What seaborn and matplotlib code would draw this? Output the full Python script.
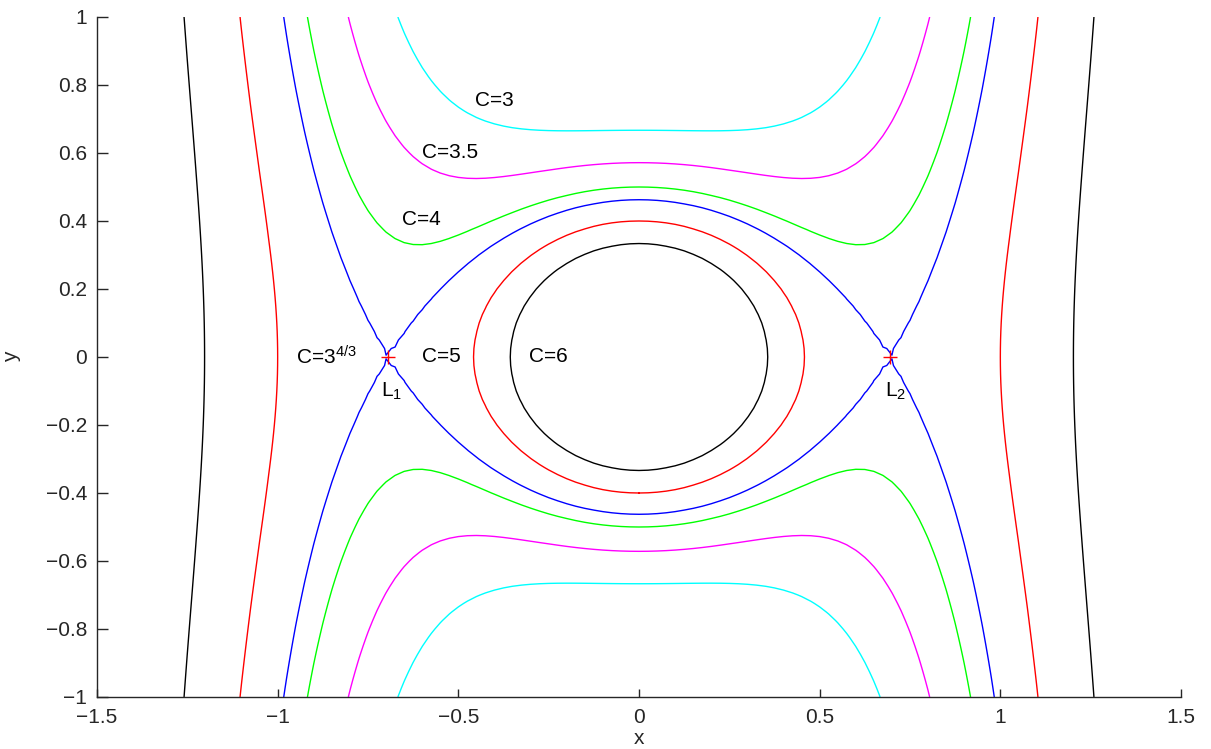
import numpy as np
import matplotlib
matplotlib.use("Agg")
import matplotlib.pyplot as plt
import seaborn as sns

# Contour levels (Jacobi constant values) and their colours
levels = [3.0, 3.5, 4.0, 3 ** (4 / 3), 5.0, 6.0]
level_colors = ["cyan", "magenta", "lime", "blue", "red", "black"]

# Labels and their data positions
label_texts = ["C=3", "C=3.5", "C=4", r"C=3$^{4/3}$", "C=5", "C=6", r"L$_1$", r"L$_2$"]
label_x = [-0.455, -0.60, -0.655, -0.95, -0.60, -0.305, -0.715, 0.68]
label_y = [0.755, 0.60, 0.405, 0.0, 0.0, 0.0, -0.10, -0.10]

# Lagrange points
lx = [-3 ** (-1 / 3), 3 ** (-1 / 3)]
ly = [0.0, 0.0]

xticks = [-1.5, -1, -0.5, 0, 0.5, 1, 1.5]
yticks = [-1, -0.8, -0.6, -0.4, -0.2, 0, 0.2, 0.4, 0.6, 0.8, 1]

sns.set_style("ticks")
plt.rcParams["font.family"] = ["Liberation Sans", "DejaVu Sans"]
plt.rcParams["xtick.direction"] = "in"
plt.rcParams["ytick.direction"] = "in"
plt.rcParams["mathtext.fontset"] = "custom"
plt.rcParams["mathtext.rm"] = "Liberation Sans"
plt.rcParams["mathtext.it"] = "Liberation Sans"

fig = plt.figure(figsize=(12.11, 7.49), dpi=100)
ax = fig.add_axes([97 / 1211, 1 - 697 / 749, (1181 - 97) / 1211, (697 - 17) / 749])

gx = np.linspace(-1.5, 1.5, 121)
gy = np.linspace(-1.0, 1.0, 81)
X, Y = np.meshgrid(gx, gy)
R = np.sqrt(X ** 2 + Y ** 2)
R[R == 0] = np.nan
Cfield = 3 * X ** 2 + 2 / R

ax.contour(X, Y, Cfield, levels=levels, colors=level_colors, linewidths=1.0)
sns.scatterplot(x=lx, y=ly, marker="+", s=100, color="red", linewidth=1.0, ax=ax, zorder=5)

fs = 15
for t, x, y in zip(label_texts, label_x, label_y):
    ax.text(x, y, t, fontsize=fs, ha="left", va="center", color="black")

ax.set_xlim(-1.5, 1.5)
ax.set_ylim(-1, 1)
ax.set_xticks(xticks)
ax.set_yticks(yticks)
ax.set_xticklabels(["\u22121.5", "\u22121", "\u22120.5", "0", "0.5", "1", "1.5"])
ax.set_yticklabels([("\u2212" + f"{abs(v):g}") if v < 0 else f"{v:g}" for v in yticks])
ax.tick_params(axis="x", labelsize=fs, length=6, width=1, pad=8)
ax.tick_params(axis="y", labelsize=fs, length=8, width=1, pad=7)
ax.set_xlabel("x", fontsize=fs, labelpad=1)
ax.set_ylabel("y", fontsize=fs, labelpad=18)
sns.despine(ax=ax)
for s in ["left", "bottom"]:
    ax.spines[s].set_linewidth(1.0)

fig.savefig("out.png", dpi=100)
